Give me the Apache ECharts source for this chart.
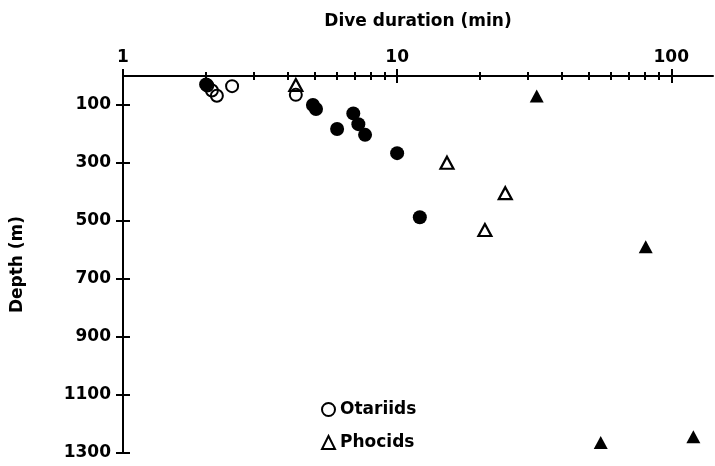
<!DOCTYPE html>
<html>
<head>
<meta charset="utf-8">
<script src="https://cdn.jsdelivr.net/npm/echarts@6/dist/echarts.min.js"></script>
<style>
  html, body { margin: 0; padding: 0; background: #fff; }
  #chart { width: 715px; height: 466px; }
</style>
</head>
<body>
<div id="chart"></div>
<script>
// Dive duration (min) vs. depth (m)
var otariidsOpen   = [[2.03, 33], [2.11, 50], [2.20, 68], [2.50, 35], [4.27, 65]];
var otariidsFilled = [[2.01, 29], [4.93, 100], [5.06, 114], [6.04, 183], [6.92, 129],
                      [7.22, 166], [7.64, 203], [10.0, 266], [12.1, 487]];
var phocidsOpen    = [[4.27, 31], [15.2, 299], [24.8, 404], [20.9, 531]];
var phocidsFilled  = [[32.3, 69], [80.7, 589], [55.3, 1264], [120.4, 1244]];

var durationMin = 1, durationMax = 142;
var durationLabels = [1, 10, 100];
var durationMinor = [2, 3, 4, 5, 6, 7, 8, 9, 20, 30, 40, 50, 60, 70, 80, 90];
var depthMin = 0, depthMax = 1300;
var depthTicks = [100, 300, 500, 700, 900, 1100, 1300];

var FONT = 'DejaVu Sans';
var INK = '#000';
var HOLLOW = 'rgba(255,255,255,0)';
var TXT = { color: INK, fontFamily: FONT, fontSize: 17, fontWeight: 'bold' };
var lg = function (v) { return Math.log10(v); };

// a log-space value axis laid over the log axis, used only for tick marks (and labels)
function tickAxis(values, len, offset, withLabels) {
  return {
    type: 'value', position: 'top', gridIndex: 0,
    min: lg(durationMin), max: lg(durationMax),
    offset: offset,
    axisLine: { show: false },
    splitLine: { show: false },
    axisTick: {
      show: true, length: len, customValues: values.map(lg),
      lineStyle: { color: INK, width: 2 }
    },
    axisLabel: withLabels ? Object.assign({
      show: true, customValues: durationLabels.map(lg),
      formatter: function (v) { return String(Math.round(Math.pow(10, v))); },
      margin: 17
    }, TXT) : { show: false }
  };
}

var chart = echarts.init(document.getElementById('chart'));
chart.setOption({
  animation: false,
  backgroundColor: '#fff',
  grid: { left: 123, top: 76, right: 2, bottom: 13, outerBoundsMode: 'none' },
  legend: {
    orient: 'vertical', left: 316, top: 396,
    itemWidth: 13, itemHeight: 13, itemGap: 16,
    data: ['Otariids', 'Phocids'],
    itemStyle: { borderWidth: 2 },
    textStyle: TXT
  },
  xAxis: [
    {
      type: 'log', position: 'top', min: durationMin, max: durationMax,
      name: 'Dive duration (min)', nameLocation: 'middle', nameGap: 46,
      nameTextStyle: TXT,
      axisLine: { show: true, lineStyle: { color: INK, width: 2 } },
      axisTick: { show: false }, axisLabel: { show: false },
      splitLine: { show: false }, minorTick: { show: false }
    },
    tickAxis(durationLabels, 14, -7, true),
    tickAxis(durationMinor, 8, -4, false)
  ],
  yAxis: [
    {
      type: 'value', position: 'left', inverse: true, min: depthMin, max: depthMax,
      name: 'Depth (m)', nameLocation: 'middle', nameGap: 97,
      nameTextStyle: TXT,
      axisLine: { show: true, lineStyle: { color: INK, width: 2 } },
      axisTick: { show: false },
      axisLabel: Object.assign({
        show: true, customValues: depthTicks, margin: 12,
        formatter: function (v) { return String(v); }
      }, TXT),
      splitLine: { show: false }
    },
    {
      type: 'value', position: 'left', inverse: true, min: depthMin, max: depthMax,
      offset: -7,
      axisLine: { show: false },
      axisTick: { show: true, length: 14, customValues: depthTicks, lineStyle: { color: INK, width: 2 } },
      axisLabel: { show: false },
      splitLine: { show: false }
    }
  ],
  series: [
    {
      name: 'Otariids (filled)', type: 'scatter', data: otariidsFilled,
      symbol: 'circle', symbolSize: 14,
      itemStyle: { color: INK, opacity: 1 }
    },
    {
      name: 'Phocids (filled)', type: 'scatter', data: phocidsFilled,
      symbol: 'triangle', symbolSize: [14, 13],
      itemStyle: { color: INK, opacity: 1 }
    },
    {
      name: 'Otariids', type: 'scatter', data: otariidsOpen,
      symbol: 'circle', symbolSize: 12,
      itemStyle: { color: HOLLOW, borderColor: INK, borderWidth: 2, opacity: 1 }
    },
    {
      name: 'Phocids', type: 'scatter', data: phocidsOpen,
      symbol: 'triangle', symbolSize: [13, 12],
      itemStyle: { color: HOLLOW, borderColor: INK, borderWidth: 2.2, opacity: 1 }
    }
  ]
});
</script>
</body>
</html>
